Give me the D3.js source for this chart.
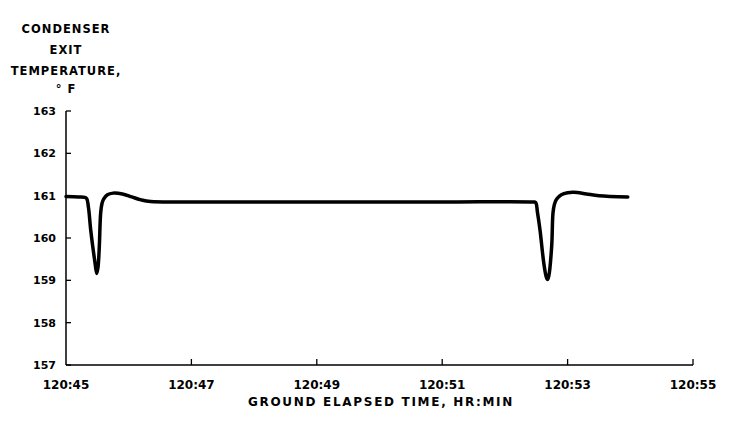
<!DOCTYPE html>
<html>
<head>
<meta charset="utf-8">
<script src="https://cdn.jsdelivr.net/npm/d3@7"></script>
<style>
  body { margin: 0; background: #fff; }
  text { font-family: "DejaVu Sans", sans-serif; font-weight: bold; fill: #000; }
</style>
</head>
<body>
<div id="chart"></div>
<script>
// minutes after 120:45 and condenser exit temperature, deg F
const minutes = [0, 0.2, 0.3, 0.33, 0.36, 0.394, 0.463, 0.49, 0.51, 0.531, 0.553, 0.575, 0.6, 0.66, 0.75, 0.9, 1.05, 1.2, 1.35, 2, 4, 6,
                 7.45, 7.49, 7.52, 7.56, 7.62, 7.66, 7.68, 7.7, 7.746, 7.767, 7.79, 7.826, 7.9, 8.0, 8.1, 8.3, 8.5, 8.96];
const temps = [160.98, 160.97, 160.96, 160.93, 160.7, 160.19, 159.41, 159.16, 159.3, 159.79, 160.59, 160.82, 160.92, 161.02, 161.06, 161.04, 160.97, 160.9, 160.86, 160.85, 160.85, 160.85,
               160.85, 160.84, 160.6, 160.19, 159.41, 159.08, 159.02, 159.1, 159.8, 160.59, 160.8, 160.92, 161.02, 161.07, 161.08, 161.04, 161.0, 160.97];
const xTicks = [0, 2, 4, 6, 8, 10];
const xTickLabels = ["120:45", "120:47", "120:49", "120:51", "120:53", "120:55"];
const yTicks = [157, 158, 159, 160, 161, 162, 163];
const yTitle = ["CONDENSER", "EXIT", "TEMPERATURE,", "\u00B0 F"];

const width = 732, height = 427;
const margin = { left: 66, right: 39, top: 111, bottom: 62 };

const svg = d3.select("#chart").append("svg")
  .attr("width", width)
  .attr("height", height);

const x = d3.scaleLinear().domain([0, 10]).range([margin.left, width - margin.right]);
const y = d3.scaleLinear().domain([157, 163]).range([height - margin.bottom, margin.top]);

// y axis: line with short ticks pointing into the plot
svg.append("line")
  .attr("x1", x(0)).attr("x2", x(0))
  .attr("y1", y(163)).attr("y2", y(157))
  .attr("stroke", "#000").attr("stroke-width", 1.5);

svg.selectAll(".ytick").data(yTicks).enter().append("line")
  .attr("x1", x(0)).attr("x2", x(0) + 5)
  .attr("y1", d => y(d)).attr("y2", d => y(d))
  .attr("stroke", "#000").attr("stroke-width", 1.3);

svg.selectAll(".ylab").data(yTicks).enter().append("text")
  .attr("x", 56)
  .attr("y", d => y(d) + 4)
  .attr("text-anchor", "end")
  .style("font-size", "11px")
  .text(d => d);

// x axis
svg.append("line")
  .attr("x1", x(0)).attr("x2", x(10))
  .attr("y1", y(157)).attr("y2", y(157))
  .attr("stroke", "#000").attr("stroke-width", 1.5);

svg.selectAll(".xtick").data(xTicks.slice(1)).enter().append("line")
  .attr("x1", d => x(d)).attr("x2", d => x(d))
  .attr("y1", y(157)).attr("y2", y(157) - 6)
  .attr("stroke", "#000").attr("stroke-width", 1.3);

svg.selectAll(".xlab").data(xTicks).enter().append("text")
  .attr("x", d => x(d))
  .attr("y", y(157) + 24)
  .attr("text-anchor", "middle")
  .style("font-size", "12px")
  .text((d, i) => xTickLabels[i]);

svg.append("text")
  .attr("x", 381)
  .attr("y", 406)
  .attr("text-anchor", "middle")
  .style("font-size", "12px")
  .style("letter-spacing", "1.7px")
  .text("GROUND ELAPSED TIME, HR:MIN");

// y title, stacked lines
svg.selectAll(".ytitle").data(yTitle).enter().append("text")
  .attr("x", 66)
  .attr("y", (d, i) => [33, 54, 75, 93][i])
  .attr("text-anchor", "middle")
  .style("font-size", "11.5px")
  .style("letter-spacing", "1px")
  .text(d => d);

// the temperature trace
const data = minutes.map((m, i) => ({ m: m, t: temps[i] }));
const line = d3.line()
  .x(d => x(d.m))
  .y(d => y(d.t))
  .curve(d3.curveCatmullRom.alpha(0.5));

svg.append("path")
  .datum(data)
  .attr("fill", "none")
  .attr("stroke", "#000")
  .attr("stroke-width", 3.5)
  .attr("stroke-linejoin", "round")
  .attr("stroke-linecap", "round")
  .attr("d", line);
</script>
</body>
</html>
